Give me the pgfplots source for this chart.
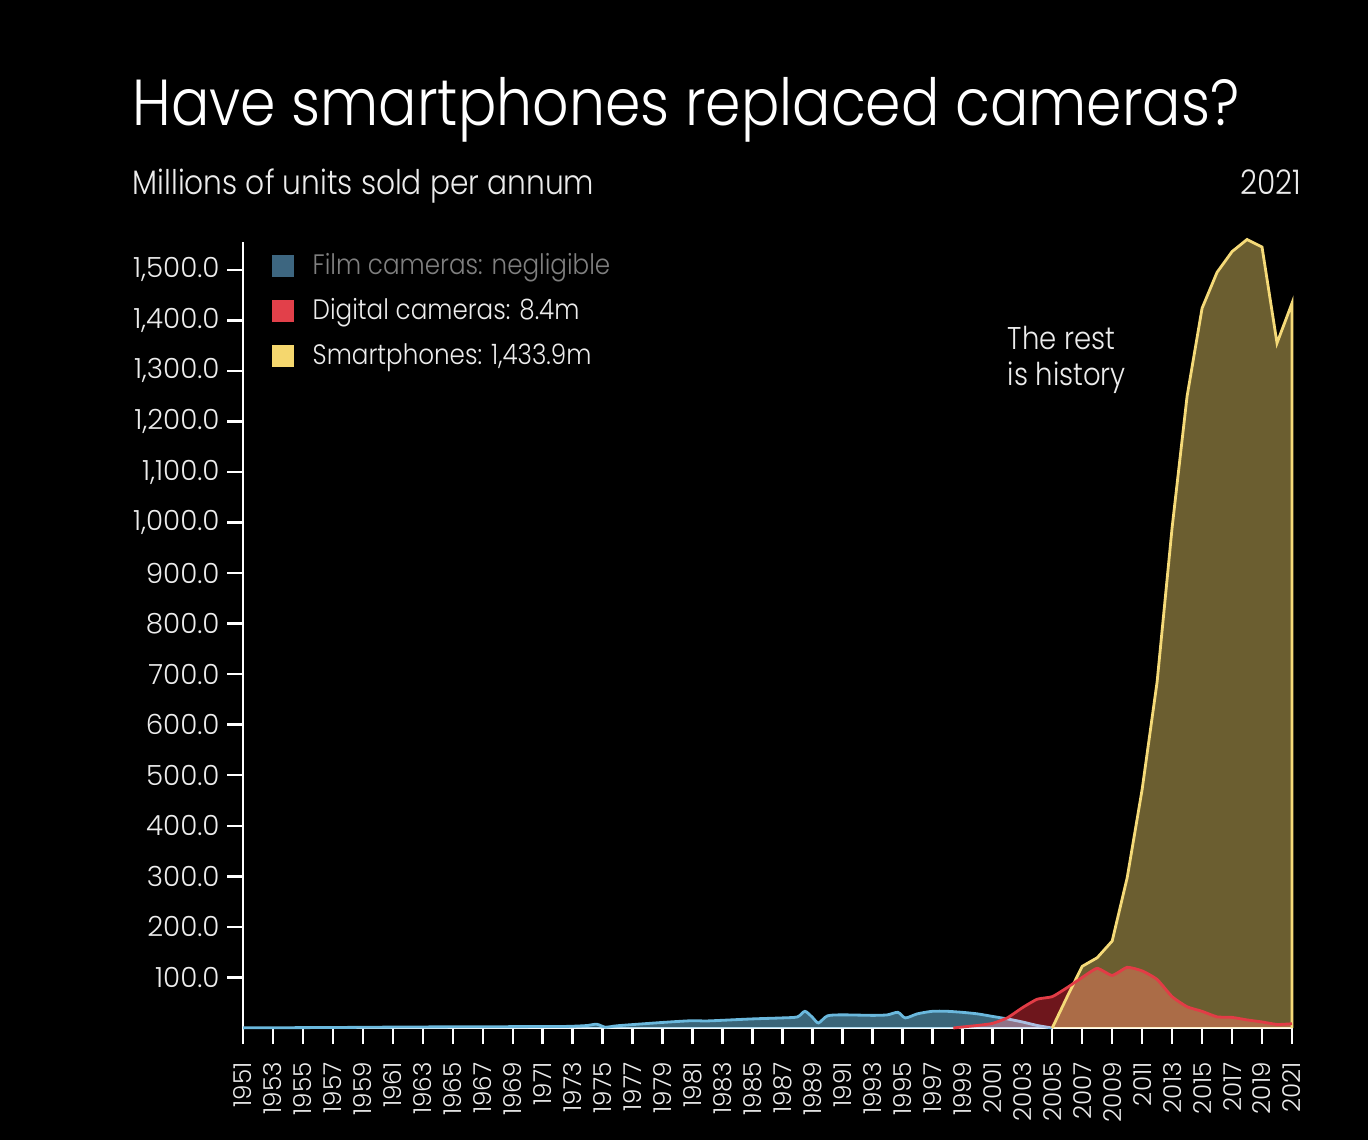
\documentclass[border=0pt]{standalone}
\usepackage{fontspec}
\setmainfont{Poppins Light}[FakeStretch=0.875]
\newfontfamily\tickfont{Poppins Light}
\usepackage{pgfplots}
\pgfplotsset{compat=1.18}
\definecolor{filmline}{RGB}{106,184,221}
\definecolor{filmkey}{RGB}{61,102,128}
\definecolor{digline}{RGB}{226,60,70}
\definecolor{digfill}{RGB}{110,22,28}
\definecolor{digkey}{RGB}{226,64,74}
\definecolor{smline}{RGB}{245,218,120}
\definecolor{smkey}{RGB}{245,215,110}
\definecolor{txt}{RGB}{236,236,236}
\definecolor{greytxt}{RGB}{128,128,128}
\begin{document}
\begin{tikzpicture}
\path[use as bounding box, fill=black] (0,0) rectangle (13.68,11.40);
\begin{axis}[
  at={(2.43cm,1.12cm)}, anchor=south west,
  scale only axis, width=10.49cm, height=7.86cm,
  xmin=1951, xmax=2021, ymin=0, ymax=1555,
  axis x line=bottom, axis y line=left,
  axis line style={white, line width=0.7pt, -},
  xtick={1951,1953,...,2021},
  ytick={100,200,...,1500},
  tick align=outside, major tick length=0.16cm,
  tick style={white, line width=0.7pt},
  xticklabel shift=0.06cm,
  xticklabel style={rotate=90, anchor=east, font=\tickfont\fontsize{7.0}{8}\selectfont, text=txt,
     /pgf/number format/.cd, 1000 sep={}, assume math mode=true},
  yticklabel style={xshift=0.05cm, font=\tickfont\fontsize{7.9}{9}\selectfont, text=txt,
     /pgf/number format/.cd, fixed, fixed zerofill, precision=1, 1000 sep={,}, assume math mode=true},
  clip=false,
]
% film cameras
\addplot[draw=none, fill=filmline, fill opacity=0.55, smooth, tension=0.45] coordinates {
(1951,0.3)(1957,1)(1962,2)(1967,2.5)(1972,3)(1973,3.5)(1974,5)(1974.6,7.5)(1975.2,1.5)(1976,4.5)
(1979,11)(1981,14.5)(1982,14)(1985,18)(1987,20)(1988,22)(1988.5,33)(1989,21)(1989.4,10)
(1990,24)(1991,26)(1993,25)(1994,26)(1994.7,31)(1995.2,20)(1996,28)(1997,33)(1998,33)
(1999,31)(2000,28)(2001,23)(2002,18)(2003,12)(2004,5)(2005,0)} \closedcycle;
\addplot[filmline, line width=0.8pt, smooth, tension=0.45] coordinates {
(1951,0.3)(1957,1)(1962,2)(1967,2.5)(1972,3)(1973,3.5)(1974,5)(1974.6,7.5)(1975.2,1.5)(1976,4.5)
(1979,11)(1981,14.5)(1982,14)(1985,18)(1987,20)(1988,22)(1988.5,33)(1989,21)(1989.4,10)
(1990,24)(1991,26)(1993,25)(1994,26)(1994.7,31)(1995.2,20)(1996,28)(1997,33)(1998,33)
(1999,31)(2000,28)(2001,23)(2002,18)(2003,12)(2004,5)(2005,0)};
% smartphones fill
\addplot[draw=none, fill=smkey, fill opacity=0.44] coordinates {
(2005,0)(2006,62)(2007,122)(2008,139)(2009,172)(2010,297)(2011,472)(2012,685)(2013,990)
(2014,1250)(2015,1424)(2016,1495)(2017,1536)(2018,1560)(2019,1545)(2020,1355)(2021,1433.9)} \closedcycle;
% digital fill
\begin{scope}[blend mode=screen]
\addplot[draw=none, fill=digfill, smooth, tension=0.3] coordinates {
(1998.4,0)(1999,2)(2000,5)(2001,9)(2002,20)(2003,40)(2004,57)(2005,62)(2006,80)(2007,100)
(2008,118)(2009,104)(2010,120)(2011,113)(2012,96)(2013,62)(2014,42)(2015,33)(2016,22)
(2017,21)(2018,16)(2019,12)(2020,7)(2021,8.4)} \closedcycle;
\end{scope}
% smartphones line
\addplot[smline, line width=0.8pt] coordinates {
(2005,0)(2006,62)(2007,122)(2008,139)(2009,172)(2010,297)(2011,472)(2012,685)(2013,990)
(2014,1250)(2015,1424)(2016,1495)(2017,1536)(2018,1560)(2019,1545)(2020,1355)(2021,1433.9)(2021,0)};
% digital line
\addplot[digline, line width=0.8pt, smooth, tension=0.3] coordinates {
(1998.4,0)(1999,2)(2000,5)(2001,9)(2002,20)(2003,40)(2004,57)(2005,62)(2006,80)(2007,100)
(2008,118)(2009,104)(2010,120)(2011,113)(2012,96)(2013,62)(2014,42)(2015,33)(2016,22)
(2017,21)(2018,16)(2019,12)(2020,7)(2021,8.4)};
\end{axis}
% titles
\node[anchor=base west, inner sep=0, text=white, font=\fontsize{18.5}{20}\selectfont] at (1.32,10.14) {Have smartphones replaced cameras?};
\node[anchor=base west, inner sep=0, text=txt, font=\fontsize{9.65}{11}\selectfont] at (1.32,9.45) {Millions of units sold per annum};
\node[anchor=base east, inner sep=0, text=txt, font=\fontsize{9.65}{11}\selectfont] at (13.02,9.45) {2021};
% legend
\fill[filmkey] (2.72,8.63) rectangle (2.94,8.85);
\fill[digkey] (2.72,8.18) rectangle (2.94,8.40);
\fill[smkey] (2.72,7.73) rectangle (2.94,7.95);
\node[anchor=base west, inner sep=0, text=greytxt, font=\fontsize{8.0}{10}\selectfont] at (3.12,8.65) {Film cameras: negligible};
\node[anchor=base west, inner sep=0, text=txt, font=\fontsize{8.0}{10}\selectfont] at (3.12,8.20) {Digital cameras: 8.4m};
\node[anchor=base west, inner sep=0, text=txt, font=\fontsize{8.0}{10}\selectfont] at (3.12,7.75) {Smartphones: 1,433.9m};
% annotation
\node[anchor=base west, inner sep=0, text=txt, font=\fontsize{8.95}{10}\selectfont] at (10.07,7.90) {The rest};
\node[anchor=base west, inner sep=0, text=txt, font=\fontsize{8.95}{10}\selectfont] at (10.07,7.54) {is history};
\end{tikzpicture}
\end{document}
